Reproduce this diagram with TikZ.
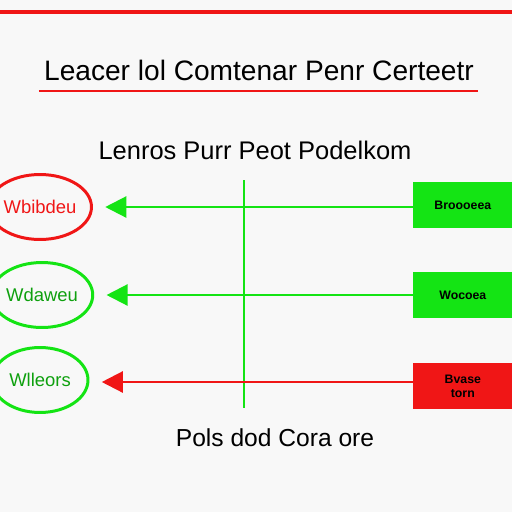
\documentclass[tikz,border=0pt]{standalone}
\usepackage{fontspec}
\setmainfont{Liberation Sans}
\usepackage{tikz}
\usetikzlibrary{arrows.meta,shapes.geometric}
\definecolor{lred}{RGB}{240,22,22}
\definecolor{lgreen}{RGB}{20,228,20}
\definecolor{bggray}{RGB}{248,248,248}

\begin{document}
\begin{tikzpicture}[x=0.02cm, y=-0.02cm,
        oval/.style={ellipse, draw, line width=1.7pt, minimum width=1.92cm, minimum height=1.3cm, inner sep=0pt, font=\fontsize{10.5}{12}\selectfont},
        box/.style={rectangle, anchor=west, minimum width=1.98cm, minimum height=0.93cm, inner sep=0pt, font=\fontsize{7}{8}\selectfont\bfseries},
        link/.style={line width=1.3pt, -{Triangle[length=12pt, width=12pt]}, shorten >=7pt}]
        \useasboundingbox[fill=bggray] (0,0) rectangle (512,512);
        % header
        \draw[lred, line width=2pt] (0,12) -- (512,12);
        \node (title) at (259,70) {\fontsize{16}{18}\selectfont Leacer lol Comtenar Penr Certeetr};
        \draw[lred, line width=1.2pt] (39,91) -- (478,91);
        \node (sub) at (255,150) {\fontsize{14.5}{16}\selectfont Lenros Purr Peot Podelkom};
        % divider
        \draw[lgreen, line width=1.3pt] (244,180) -- (244,408);
        % left ovals
        \node[oval, draw=lred, text=lred] (o1) at (40,207) {Wbibdeu};
        \node[oval, draw=lgreen, text=lgreen!70!black] (o2) at (42,295) {Wdaweu};
        \node[oval, draw=lgreen, text=lgreen!70!black] (o3) at (40,380) {Wlleors};
        % right boxes
        \node[box, fill=lgreen] (b1) at (413,205) {Broooeea};
        \node[box, fill=lgreen] (b2) at (413,295) {Wocoea};
        \node[box, fill=lred, align=center] (b3) at (413,386) {Bvase\\torn};
        % arrows
        \draw[link, lgreen] (b1.west |- 0,207) -- (o1.east);
        \draw[link, lgreen] (b2.west) -- (o2.east);
        \draw[link, lred] (b3.west |- 0,382) -- (o3.east |- 0,382);
        % footer
        \node (foot) at (275,438) {\fontsize{14}{16}\selectfont Pols dod Cora ore};
        \end{tikzpicture}
\end{document}
